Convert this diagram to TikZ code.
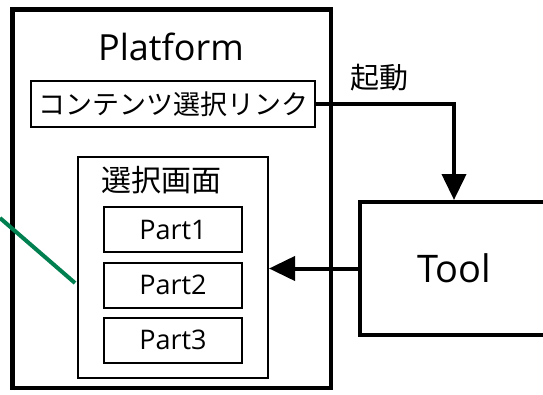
\documentclass[tikz,border=0pt]{standalone}
\usepackage{fontspec}
\setmainfont{Open Sans}
\newfontfamily\jpfont{Noto Sans CJK JP}
\usetikzlibrary{arrows.meta}
\definecolor{notegreen}{RGB}{0,128,80}

\begin{document}
\begin{tikzpicture}[x=1pt, y=-1pt,
        box/.style={draw, line width=2pt, inner sep=0pt},
        partbox/.style={box, minimum width=138pt, minimum height=45pt, font=\fontsize{27}{30}\selectfont},
        flow/.style={line width=4pt, -{Triangle[length=26pt, width=24pt]}}]
        \clip (0,0) rectangle (543,394);
        \fill[white] (0,0) rectangle (543,394);

        % Platform frame
        \node[draw, line width=4.5pt, minimum width=318.5pt, minimum height=378.5pt] (platform) at (171.75,198.75) {};
        \node[anchor=base, font=\fontsize{36}{40}\selectfont] (platformtitle) at (171,60) {Platform};

        % Content selection link
        \node[box, minimum width=284pt, minimum height=46pt, font=\jpfont\fontsize{27}{30}\selectfont] (link) at (173,104) {コンテンツ選択リンク};

        % Selection screen with parts
        \node[box, minimum width=190pt, minimum height=221pt] (screen) at (173,267.5) {};
        \node[font=\jpfont\fontsize{30}{34}\selectfont] (screentitle) at (161,180) {選択画面};
        \node[partbox] (part1) at (173,229.5) {Part1};
        \node[partbox] (part2) at (173,285) {Part2};
        \node[partbox] (part3) at (173,340) {Part3};

        % Tool
        \node[draw, line width=4pt, minimum width=188pt, minimum height=133pt, font=\fontsize{38}{42}\selectfont] (tool) at (454,268.5) {Tool};

        % Connectors
        \draw[flow] (link.east) -| (tool.north);
        \node[font=\jpfont\fontsize{29}{32}\selectfont] (launch) at (379,78) {起動};
        \draw[flow] (tool.west) -- (tool.west -| screen.east);

        % Note line
        \coordinate (notestart) at (0,218);
        \coordinate (noteend) at (75,283);
        \draw[notegreen, line width=4pt] (notestart) -- (noteend);
    \end{tikzpicture}
\end{document}
